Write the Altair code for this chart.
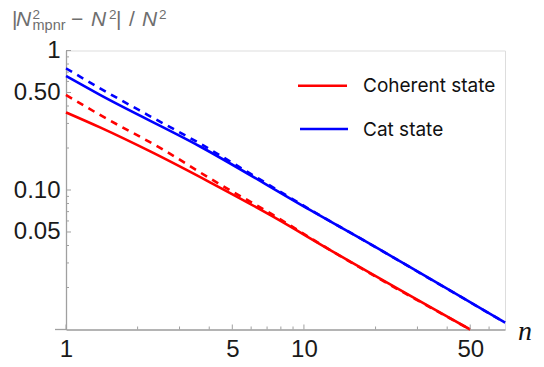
import altair as alt
import pandas as pd

# ---- data ----
coh_n = [1, 1.39, 2.26, 4.03, 7.42, 12.9, 50]
coh_v = [0.360, 0.281, 0.189, 0.1135, 0.0644, 0.0371, 0.0100]
cohd_n = [1, 1.39, 2.57, 4.03, 7.42, 12.9, 50]
cohd_v = [0.480, 0.345, 0.194, 0.121, 0.0662, 0.0371, 0.0100]
cat_n = [1, 1.39, 3.66, 10.6, 17.2, 70]
cat_v = [0.656, 0.480, 0.205, 0.0719, 0.0451, 0.0112]
catd_n = [1, 1.39, 2.2, 3.66, 6.0, 10.6, 17.2, 70]
catd_v = [0.745, 0.536, 0.346, 0.215, 0.130, 0.0725, 0.0451, 0.0112]

x_major = [1, 5, 10, 50]
x_minor = [2, 3, 4, 6, 7, 8, 9, 20, 30, 40, 60]
y_major = [0.05, 0.1, 0.5, 1]
y_minor = [0.02, 0.03, 0.04, 0.06, 0.07, 0.08, 0.09, 0.2, 0.3, 0.4, 0.6, 0.7, 0.8, 0.9]

RED = "#ff0000"
BLUE = "#0000ff"
AX = "#a0a0a0"
W, H = 439, 279

rows = []
for name, ns, vs in [("coh", coh_n, coh_v), ("cohd", cohd_n, cohd_v),
                     ("cat", cat_n, cat_v), ("catd", catd_n, catd_v)]:
    for n, v in zip(ns, vs):
        rows.append({"series": name, "n": n, "v": v})
df = pd.DataFrame(rows)

xs = alt.Scale(type="log", domain=[1, 70], nice=False)
ys = alt.Scale(type="log", domain=[0.01, 1], nice=False)

xaxis = alt.Axis(values=x_major, labelFontSize=24, labelFont="Liberation Sans",
                 labelColor="#1a1a1a", domainColor=AX, domainWidth=1.3,
                 ticks=False, tickSize=0, grid=False, title=None,
                 labelPadding=8, labelFlush=False, format="d")
yaxis = alt.Axis(values=y_major, labelFontSize=24, labelFont="Liberation Sans",
                 labelColor="#1a1a1a", domainColor=AX, domainWidth=1.3,
                 ticks=False, tickSize=0, grid=False, title=None,
                 labelPadding=6,
                 labelExpr="datum.value == 1 ? '1' : format(datum.value, '.2f')")

def line(name, color, dashed):
    kw = dict(color=color, strokeWidth=2.6, clip=False, interpolate="monotone")
    if dashed:
        kw["strokeDash"] = [7, 6]
    return alt.Chart(df).transform_filter(alt.datum.series == name).mark_line(**kw).encode(
        x=alt.X("n:Q", scale=xs, axis=xaxis),
        y=alt.Y("v:Q", scale=ys, axis=yaxis),
    )

def xticks(vals, ln):
    d = pd.DataFrame({"n": vals})
    return alt.Chart(d).mark_rule(color=AX, strokeWidth=1).encode(
        x=alt.X("n:Q", scale=xs, axis=xaxis), y=alt.value(H), y2=alt.value(H - ln))

def yticks(vals, ln):
    d = pd.DataFrame({"v": vals})
    return alt.Chart(d).mark_rule(color=AX, strokeWidth=1).encode(
        y=alt.Y("v:Q", scale=ys, axis=yaxis), x=alt.value(0), x2=alt.value(ln))

one = pd.DataFrame({"k": [0]})
OX, OY = 66, 50.5  # page position of plot origin

def txt(s, px, py, size, color, italic=False, font="Liberation Sans"):
    return alt.Chart(one).mark_text(text=s, align="left", baseline="alphabetic",
                                    fontSize=size, font=font,
                                    fontStyle="italic" if italic else "normal",
                                    color=color).encode(
        x=alt.value(px - OX), y=alt.value(py - OY))

def seg(color, x1, x2, py):
    return alt.Chart(one).mark_rule(color=color, strokeWidth=2.6).encode(
        x=alt.value(x1 - OX), x2=alt.value(x2 - OX), y=alt.value(py - OY))

TG = "#6e6e6e"
title = [
    txt("|", 12, 26, 21, TG),
    txt("N", 16, 26, 21, TG, italic=True),
    txt("2", 32.5, 18.5, 13.5, TG),
    txt("mpnr", 32.5, 29.5, 14.5, TG),
    txt("\u2212", 71, 26, 21, TG),
    txt("N", 91, 26, 21, TG, italic=True),
    txt("2", 109, 18.5, 13.5, TG),
    txt("|", 116, 26, 21, TG),
    txt("/", 129, 26, 21, TG),
    txt("N", 142, 26, 21, TG, italic=True),
    txt("2", 159, 18.5, 13.5, TG),
]

legend = [
    seg(RED, 298, 347, 85.7),
    seg(BLUE, 300, 348, 129),
    txt("Coherent state", 363, 92.3, 19, "#111111", font="Inter"),
    txt("Cat state", 363, 135.5, 19, "#111111", font="Inter"),
]

xext = alt.Chart(one).mark_rule(color=AX, strokeWidth=1.3).encode(
    x=alt.value(-11), x2=alt.value(0), y=alt.value(H))

nlab = txt("n", 518, 340, 28, "#111111", italic=True, font="Liberation Serif")

chart = alt.layer(
    line("coh", RED, False), line("cohd", RED, True),
    line("cat", BLUE, False), line("catd", BLUE, True),
    xticks(x_major, 5), xticks(x_minor, 3), yticks(y_major, 5), yticks(y_minor, 3),
    xext, nlab, *title, *legend,
).properties(
    width=W, height=H,
    padding={"left": 58, "top": 42.5, "right": 30, "bottom": 34},
    autosize=alt.AutoSizeParams(type="none"),
).configure_view(stroke=None).configure(background="white")

chart.save("out.html", embed_options={"renderer": "svg", "actions": False})
